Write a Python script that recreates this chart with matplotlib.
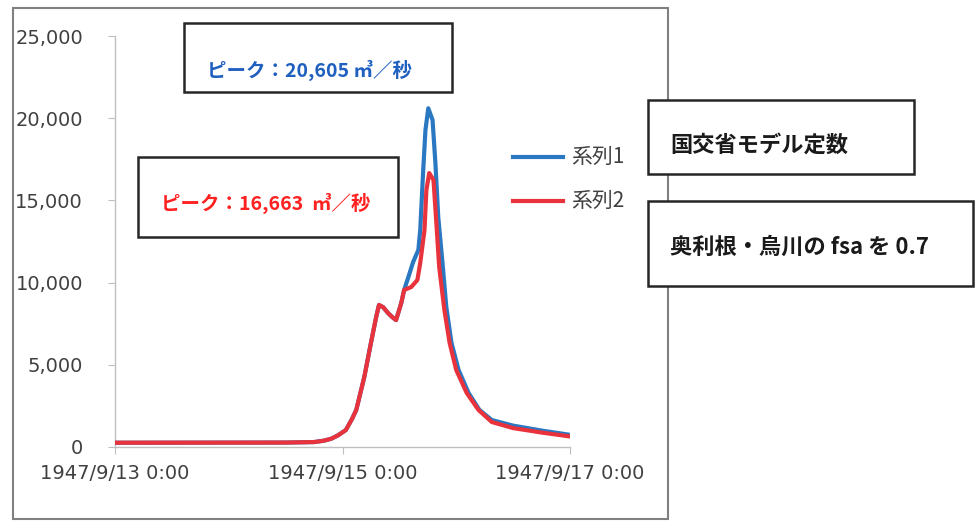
import matplotlib
matplotlib.use('Agg')
import matplotlib.pyplot as plt
from matplotlib.patches import Rectangle
from matplotlib.lines import Line2D
from matplotlib.ticker import StrMethodFormatter
from datetime import datetime, timedelta

W, H = 975, 522
start = datetime(1947, 9, 13, 0, 0)

# ---- data (hours after 1947/9/13 0:00, discharge m3/s) ----
hours_1 = [0, 36, 42, 44, 45.6, 47, 48.7, 50, 50.9, 52.6, 54, 55.1, 55.7, 56.6, 57.6, 58.5,
           59.3, 60.4, 61.0, 61.9, 62.9, 64.0, 64.4, 65.0, 65.5, 66.1, 67.0, 67.6, 68.2,
           69.1, 69.9, 71.0, 72.5, 74.6, 76.9, 79.5, 84, 90, 96]
flow_1 = [260, 270, 300, 380, 500, 700, 1030, 1700, 2250, 4260, 6330, 7900, 8640, 8500, 8150, 7900,
          7720, 8760, 9550, 10340, 11250, 11980, 13200, 16670, 19280, 20605, 19890, 17280, 13990,
          11190, 8520, 6330, 4680, 3290, 2250, 1640, 1300, 1000, 740]

hours_2 = [0, 36, 42, 44, 45.6, 47, 48.7, 50, 50.9, 52.6, 54, 55.1, 55.7, 56.6, 57.6, 58.5,
           59.3, 60.4, 61.0, 62.5, 63.8, 64.4, 65.3, 65.7, 66.3, 67.2, 67.8, 68.4,
           69.5, 70.6, 72.0, 74.2, 76.7, 79.5, 84, 90, 96]
flow_2 = [260, 270, 300, 380, 500, 700, 1030, 1700, 2250, 4260, 6330, 7900, 8640, 8500, 8150, 7900,
          7720, 8760, 9550, 9730, 10160, 11190, 13200, 15630, 16663, 16240, 13630, 10950,
          8330, 6330, 4680, 3290, 2250, 1520, 1150, 880, 640]

series_names = ['系列1', '系列2']
series_colors = ['#2A78C2', '#E8323C']
tick_hours = [0, 48, 96]
tick_labels = ['1947/9/13 0:00', '1947/9/15 0:00', '1947/9/17 0:00']
y_ticks = [0, 5000, 10000, 15000, 20000, 25000]
peak_texts = ['ピーク：20,605 ㎥／秒', 'ピーク：16,663  ㎥／秒']
note_texts = ['国交省モデル定数', '奥利根・烏川の fsa を 0.7']

CJK = ['Noto Sans CJK JP', 'DejaVu Sans']


def fx(x):
    return x / W


def fy(y):
    return 1 - y / H


fig = plt.figure(figsize=(W / 100, H / 100), dpi=100)
fig.patch.set_facecolor('white')

# chart area border
fig.add_artist(Rectangle((fx(13), fy(519)), fx(668) - fx(13), fy(8) - fy(519),
                         transform=fig.transFigure, fill=False, ec='#808080', lw=1.5, zorder=-1))

ax = fig.add_axes([fx(115), fy(447), fx(570) - fx(115), fy(36) - fy(447)])
ax.set_facecolor('none')

t1 = [start + timedelta(hours=h) for h in hours_1]
t2 = [start + timedelta(hours=h) for h in hours_2]
ax.plot(t1, flow_1, color=series_colors[0], lw=3.0, solid_joinstyle='round',
        solid_capstyle='round', zorder=3)
ax.plot(t2, flow_2, color=series_colors[1], lw=3.0, solid_joinstyle='round',
        solid_capstyle='round', zorder=4)

ax.set_xlim(start, start + timedelta(hours=96))
ax.set_ylim(0, 25000)
ax.set_yticks(y_ticks)
ax.yaxis.set_major_formatter(StrMethodFormatter('{x:,.0f}'))
ax.set_xticks([start + timedelta(hours=h) for h in tick_hours])
ax.set_xticklabels(tick_labels)

for s in ['top', 'right']:
    ax.spines[s].set_visible(False)
for s in ['left', 'bottom']:
    ax.spines[s].set_color('#BFBFBF')
    ax.spines[s].set_linewidth(1.0)

ax.tick_params(axis='y', length=5, color='#BFBFBF', pad=18, labelsize=14, labelcolor='#404040')
ax.tick_params(axis='x', length=5, color='#BFBFBF', pad=7, labelsize=14, labelcolor='#404040')


def box(x0, y0, x1, y1):
    fig.add_artist(Rectangle((fx(x0), fy(y1)), fx(x1) - fx(x0), fy(y0) - fy(y1),
                             transform=fig.transFigure, fc='white', ec='#262626', lw=1.8, zorder=5))


# peak boxes
box(184, 23, 452, 92)
fig.text(fx(207), fy(70), peak_texts[0], family=CJK, fontsize=14, fontweight='bold',
         color='#1F5FBF', va='center', ha='left', zorder=6)
box(138, 157, 398, 237)
fig.text(fx(161), fy(203), peak_texts[1], family=CJK, fontsize=14, fontweight='bold',
         color='#FF2020', va='center', ha='left', zorder=6)

# note boxes
box(648, 100, 914, 174)
fig.text(fx(670), fy(145), note_texts[0], family=CJK, fontsize=16, fontweight='bold',
         color='#1A1A1A', va='center', ha='left', zorder=6)
box(648, 201, 973, 286)
fig.text(fx(670), fy(247), note_texts[1], family=CJK, fontsize=16, fontweight='bold',
         color='#1A1A1A', va='center', ha='left', zorder=6)

# legend
for i, (name, col) in enumerate(zip(series_names, series_colors)):
    yy = 157 + i * 44
    fig.add_artist(Line2D([fx(513), fx(563)], [fy(yy), fy(yy)], transform=fig.transFigure,
                          color=col, lw=3.0, zorder=4))
    fig.text(fx(571), fy(yy), name, family=CJK, fontsize=15, color='#404040',
             va='center', ha='left', zorder=4)

fig.savefig('out.png', dpi=100, facecolor='white')
